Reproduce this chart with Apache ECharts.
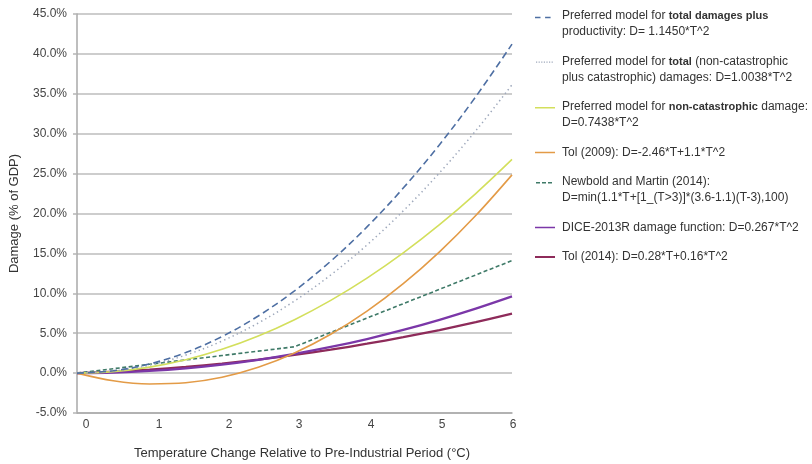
<!DOCTYPE html>
<html>
<head>
<meta charset="utf-8">
<script src="https://cdn.jsdelivr.net/npm/echarts@6/dist/echarts.min.js"></script>
<style>
  html, body { margin: 0; padding: 0; background: #ffffff; }
  #chart { width: 812px; height: 464px; }
</style>
</head>
<body>
<div id="chart"></div>
<script>
// Warming levels (°C above pre-industrial) at which each damage function is sampled
const temps = [0, 0.5, 1, 1.5, 2, 2.5, 3, 3.5, 4, 4.5, 5, 5.5, 6];

// Damage as % of GDP for each function
const totalPlusProductivity = [0, 0.286, 1.145, 2.576, 4.58, 7.156, 10.305, 14.026, 18.32, 23.186, 28.625, 34.636, 41.22];
const totalCatastrophic     = [0, 0.251, 1.004, 2.259, 4.015, 6.274, 9.034, 12.297, 16.061, 20.327, 25.095, 30.365, 36.137];
const nonCatastrophic       = [0, 0.186, 0.744, 1.674, 2.975, 4.649, 6.694, 9.112, 11.901, 15.062, 18.595, 22.5, 26.777];
const tol2009               = [0, -0.955, -1.36, -1.215, -0.52, 0.725, 2.52, 4.865, 7.76, 11.205, 15.2, 19.745, 24.84];
const newboldMartin         = [0, 0.55, 1.1, 1.65, 2.2, 2.75, 3.3, 5.1, 6.9, 8.7, 10.5, 12.3, 14.1];
const dice2013R             = [0, 0.067, 0.267, 0.601, 1.068, 1.669, 2.403, 3.271, 4.272, 5.407, 6.675, 8.077, 9.612];
const tol2014               = [0, 0.18, 0.44, 0.78, 1.2, 1.7, 2.28, 2.94, 3.68, 4.5, 5.4, 6.38, 7.44];

// Axis ticks
const xTicks = [0, 1, 2, 3, 4, 5, 6];
const yMin = -5, yMax = 45, yStep = 5;

// Legend entries (rich-text markup marks the bold words)
const legendLabels = [
  'Preferred model for {b|total damages plus}\nproductivity: D= 1.1450*T^2',
  'Preferred model for {b|total} (non-catastrophic\nplus catastrophic) damages: D=1.0038*T^2',
  'Preferred model for {b|non-catastrophic} damage:\nD=0.7438*T^2',
  'Tol (2009): D=-2.46*T+1.1*T^2',
  'Newbold and Martin (2014):\nD=min(1.1*T+[1_(T>3)]*(3.6-1.1)(T-3),100)',
  'DICE-2013R damage function: D=0.267*T^2',
  'Tol (2014): D=0.28*T+0.16*T^2'
];
const seriesNames = legendLabels.map(s => s.replace(/\{b\|([^}]*)\}/g, '$1').replace('\n', ' '));

const FONT = '"Liberation Sans", Arial, Helvetica, sans-serif';

// Legend swatch: a set of horizontal segments inside a 22x16 box;
// two-line entries put the swatch level with their first line.
function swatch(segments, thickness, firstLine) {
  const y0 = firstLine ? 0 : 8 - thickness / 2;
  let p = 'path://M0,0h0.01v0.01h-0.01zM21.99,15.99h0.01v0.01h-0.01z';
  segments.forEach(([a, b]) => {
    p += `M${a},${y0}h${b - a}v${thickness}h${a - b}z`;
  });
  return p;
}
function dots(from, to, step, len) {
  const s = [];
  for (let x = from; x + len <= to; x += step) s.push([x, x + len]);
  return s;
}

const styles = [
  { data: totalPlusProductivity, color: '#4e6fa3', width: 1.6, type: [7, 4], smooth: true,
    icon: swatch([[-2, 4], [9, 15]], 1.6, true) },
  { data: totalCatastrophic, color: '#9ea8bb', width: 1.5, type: [1.4, 3.2], smooth: true,
    icon: swatch(dots(1, 19, 2.6, 1.2), 1.2, true) },
  { data: nonCatastrophic, color: '#d3df5c', width: 1.6, type: 'solid', smooth: true,
    icon: swatch([[0, 20]], 1.5, true) },
  { data: tol2009, color: '#e39b47', width: 1.6, type: 'solid', smooth: true,
    icon: swatch([[0, 20]], 1.6, false) },
  { data: newboldMartin, color: '#3f7a68', width: 1.6, type: [4, 2.5], smooth: false,
    icon: swatch([[1, 5], [7, 11], [13, 17]], 1.4, true) },
  { data: dice2013R, color: '#7b37a8', width: 2.3, type: 'solid', smooth: true,
    icon: swatch([[0, 20]], 1.6, false) },
  { data: tol2014, color: '#8e2b5a', width: 2.3, type: 'solid', smooth: true,
    icon: swatch([[0, 20]], 2.2, false) }
];

// Per-label nudges along the temperature axis
const xLabelPad = { 0: 18, 1: 19, 2: 14, 3: 9, 4: 8, 5: 5, 6: 2 };
const xRich = {};
xTicks.forEach(t => {
  xRich['t' + t] = { fontFamily: FONT, fontSize: 12, color: '#444', padding: [0, 0, 0, xLabelPad[t]] };
});

const chart = echarts.init(document.getElementById('chart'), null, { renderer: 'canvas' });

chart.setOption({
  animation: false,
  backgroundColor: '#ffffff',
  grid: { left: 77, right: 300, top: 14, bottom: 51, containLabel: false, outerBoundsMode: 'none' },
  xAxis: {
    type: 'value',
    min: xTicks[0],
    max: xTicks[xTicks.length - 1],
    interval: 1,
    name: 'Temperature Change Relative to Pre-Industrial Period (°C)',
    nameLocation: 'middle',
    nameGap: 34,
    nameTextStyle: { fontFamily: FONT, fontSize: 13, color: '#333', padding: [0, 0, 0, 15] },
    axisLine: { show: true, onZero: false, lineStyle: { color: '#a9a9a9', width: 1.5 } },
    axisTick: { show: false },
    splitLine: { show: false },
    axisLabel: {
      margin: 6,
      formatter: v => `{t${v}|${v}}`,
      rich: xRich
    }
  },
  yAxis: {
    type: 'value',
    min: yMin,
    max: yMax,
    interval: yStep,
    name: 'Damage (% of GDP)',
    nameLocation: 'middle',
    nameGap: 56,
    nameTextStyle: { fontFamily: FONT, fontSize: 13, color: '#333' },
    axisLine: { show: true, onZero: false, lineStyle: { color: '#a9a9a9', width: 1.5 } },
    axisTick: { show: true, length: 4, lineStyle: { color: '#b5b5b5', width: 1.5 } },
    splitLine: { show: true, lineStyle: { color: '#bdbdbd', width: 1.5 } },
    axisLabel: {
      margin: 10,
      fontFamily: FONT,
      fontSize: 12,
      color: '#444',
      formatter: v => v.toFixed(1) + '%'
    }
  },
  legend: {
    orient: 'vertical',
    left: 535,
    top: 8,
    padding: 0,
    itemGap: 13.5,
    itemWidth: 22,
    itemHeight: 16,
    selectedMode: false,
    itemStyle: { borderWidth: 0 },
    textStyle: {
      fontFamily: FONT, fontSize: 12, lineHeight: 16, color: '#333',
      rich: { b: { fontFamily: FONT, fontSize: 11, lineHeight: 16, color: '#333', fontWeight: 'bold' } }
    },
    formatter: name => legendLabels[seriesNames.indexOf(name)],
    data: seriesNames.map((n, i) => ({ name: n, icon: styles[i].icon }))
  },
  series: styles.map((s, i) => ({
    type: 'line',
    name: seriesNames[i],
    data: temps.map((t, k) => [t, s.data[k]]),
    smooth: s.smooth ? 0.35 : false,
    symbol: 'none',
    z: 2 + (styles.length - i),
    itemStyle: { color: s.color },
    lineStyle: { color: s.color, width: s.width, type: s.type }
  }))
});
</script>
</body>
</html>
